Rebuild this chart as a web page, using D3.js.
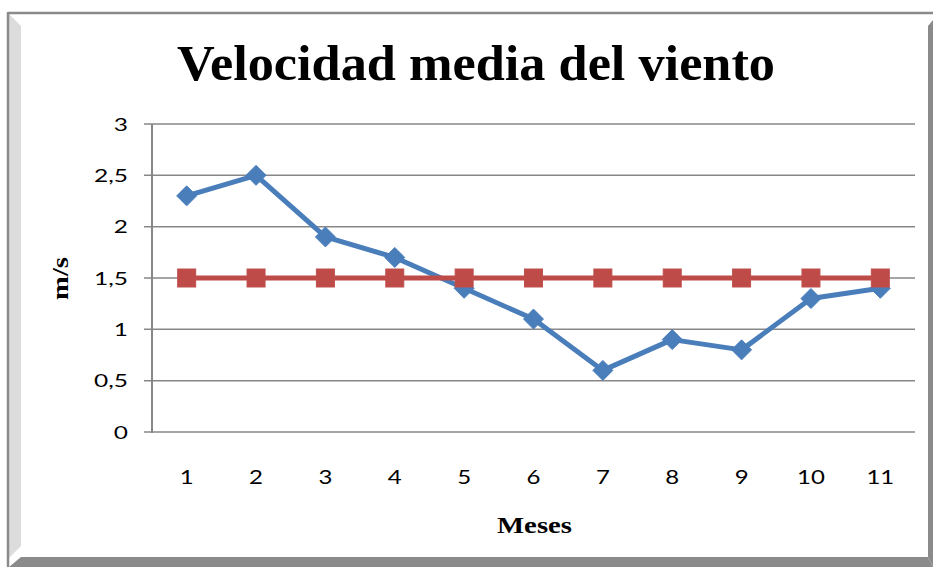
<!DOCTYPE html>
<html>
<head>
<meta charset="utf-8">
<script src="https://cdn.jsdelivr.net/npm/d3@7"></script>
<style>
html,body{margin:0;padding:0;background:#fff;}
svg{display:block;}
</style>
</head>
<body>
<script>
const categories = ["1","2","3","4","5","6","7","8","9","10","11"];
const seriesVelocidad = [2.3, 2.5, 1.9, 1.7, 1.4, 1.1, 0.6, 0.9, 0.8, 1.3, 1.4];
const seriesMedia = [1.5, 1.5, 1.5, 1.5, 1.5, 1.5, 1.5, 1.5, 1.5, 1.5, 1.5];
const yTicks = [0, 0.5, 1, 1.5, 2, 2.5, 3];
const titleText = "Velocidad media del viento";
const xTitle = "Meses";
const yTitle = "m/s";

(function () {
const W = 933, H = 567;
const svg = d3.select("body").append("svg").attr("width", W).attr("height", H);

// Frame with bevel
svg.append("rect").attr("x",0).attr("y",0).attr("width",W).attr("height",H).attr("fill","#fff");
svg.append("polygon").attr("points","9,14 21,26 21,546 9,558").attr("fill","#dcdcdc");
svg.append("polygon").attr("points","9,567 21,557 928,557 933,567").attr("fill","#8a8a8a");
svg.append("polygon").attr("points","928,26 933,20 933,567 928,557").attr("fill","#8a8a8a");
svg.append("line").attr("x1",8).attr("x2",933).attr("y1",13).attr("y2",13).attr("stroke","#8a8a8a").attr("stroke-width",2.5);
svg.append("line").attr("x1",8).attr("x2",8).attr("y1",12).attr("y2",567).attr("stroke","#8a8a8a").attr("stroke-width",2.5);

const pL = 152, pR = 915, pT = 124, pB = 432;
const x = d3.scaleBand().domain(categories).range([pL, pR]);
const y = d3.scaleLinear().domain([0, 3]).range([pB, pT]);

// Gridlines
svg.append("g").selectAll("line").data(yTicks).join("line")
  .attr("x1", pL - 8).attr("x2", pR)
  .attr("y1", d => y(d)).attr("y2", d => y(d))
  .attr("stroke", "#878787").attr("stroke-width", 1.5);

// Y axis line
svg.append("line").attr("x1", pL).attr("x2", pL).attr("y1", pT).attr("y2", pB + 1)
  .attr("stroke", "#878787").attr("stroke-width", 2);

// Y tick labels
const fmt = d => String(d).replace(".", ",");
svg.append("g").selectAll("text").data(yTicks).join("text")
  .attr("transform", d => `translate(128,${y(d) + 6.5}) scale(1.4,1)`)
  .attr("text-anchor", "end")
  .attr("font-family", "Lato, 'Open Sans', sans-serif")
  .attr("font-size", 17.5).attr("fill", "#000")
  .text(fmt);

// X tick labels
const cx = d => x(d) + x.bandwidth() / 2;
svg.append("g").selectAll("text").data(categories).join("text")
  .attr("transform", d => `translate(${cx(d)},483.5) scale(1.2,1)`)
  .attr("text-anchor", "middle")
  .attr("font-family", "Lato, 'Open Sans', sans-serif")
  .attr("font-size", 20).attr("fill", "#000")
  .text(d => d);

const line = d3.line().x((d, i) => cx(categories[i])).y(d => y(d));

// Blue series
svg.append("path").datum(seriesVelocidad).attr("d", line)
  .attr("fill", "none").attr("stroke", "#4a7ebb").attr("stroke-width", 5).attr("stroke-linejoin", "round");
svg.append("g").selectAll("path").data(seriesVelocidad).join("path")
  .attr("transform", (d, i) => `translate(${cx(categories[i])},${y(d)})`)
  .attr("d", "M0,-10L10,0L0,10L-10,0Z")
  .attr("fill", "#4a7ebb").attr("stroke", "#4a7ebb").attr("stroke-width", 1);

// Red series
svg.append("path").datum(seriesMedia).attr("d", line)
  .attr("fill", "none").attr("stroke", "#be4b48").attr("stroke-width", 5);
svg.append("g").selectAll("rect").data(seriesMedia).join("rect")
  .attr("x", (d, i) => cx(categories[i]) - 9).attr("y", d => y(d) - 9)
  .attr("width", 18).attr("height", 18)
  .attr("fill", "#be4b48").attr("stroke", "#c0504d").attr("stroke-width", 1);

// Title
svg.append("text").attr("x", 177).attr("y", 80)
  .attr("font-family", "'Liberation Serif', 'DejaVu Serif', serif")
  .attr("font-weight", "bold").attr("font-size", 50)
  .attr("textLength", 598).attr("lengthAdjust", "spacingAndGlyphs")
  .text(titleText);

// X axis title
svg.append("text").attr("x", 497).attr("y", 533)
  .attr("font-family", "'Liberation Serif', 'DejaVu Serif', serif")
  .attr("font-weight", "bold").attr("font-size", 23)
  .attr("textLength", 75).attr("lengthAdjust", "spacingAndGlyphs")
  .text(xTitle);

// Y axis title
svg.append("text").attr("transform", "translate(68,300) rotate(-90)")
  .attr("font-family", "'Liberation Serif', 'DejaVu Serif', serif")
  .attr("font-weight", "bold").attr("font-size", 23)
  .attr("textLength", 43).attr("lengthAdjust", "spacingAndGlyphs")
  .text(yTitle);
})();
</script>
</body>
</html>
